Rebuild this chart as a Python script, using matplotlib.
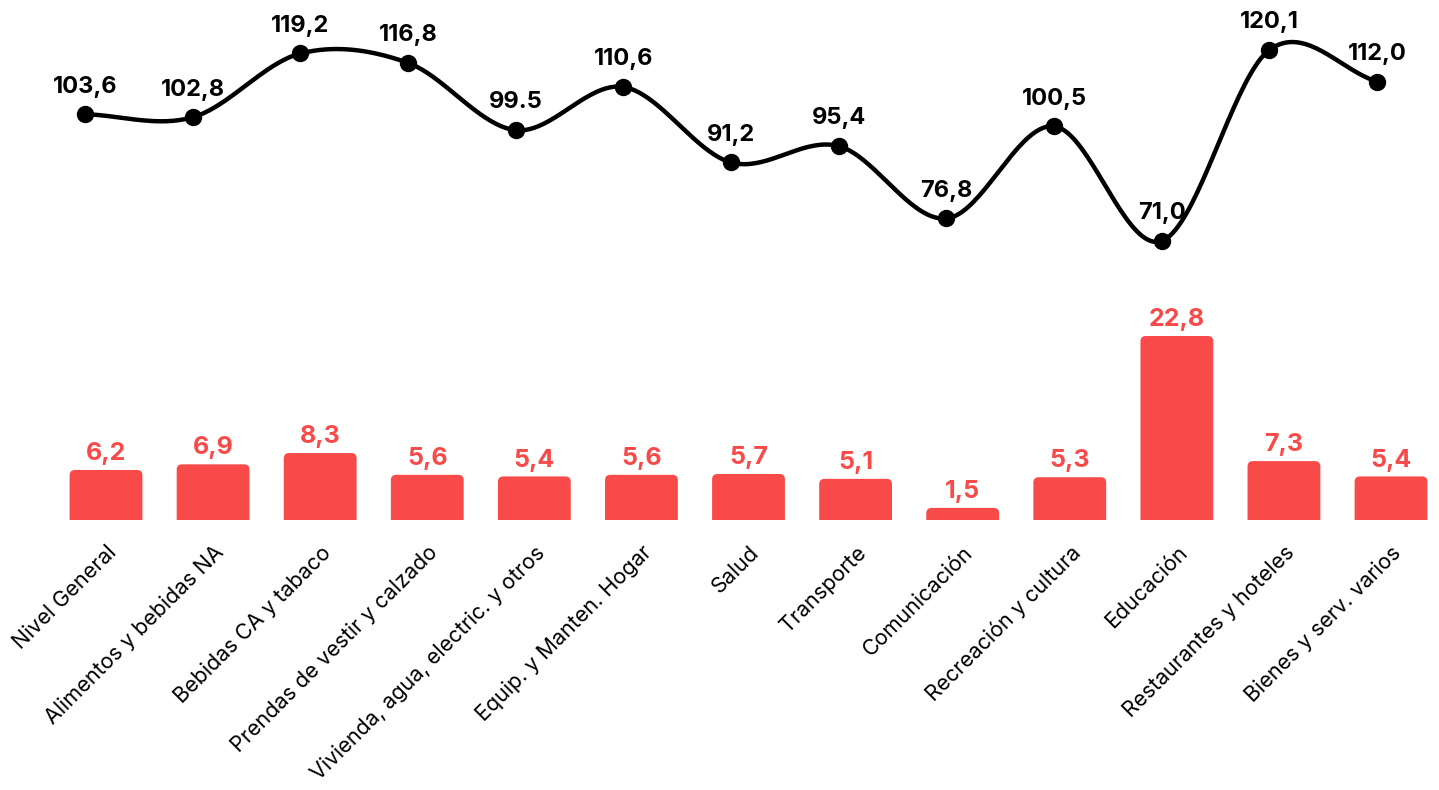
import numpy as np
import matplotlib.pyplot as plt
from matplotlib.patches import FancyBboxPatch

plt.rcParams['font.family'] = ['Inter', 'DejaVu Sans']

categories = ['Nivel General', 'Alimentos y bebidas NA', 'Bebidas CA y tabaco',
              'Prendas de vestir y calzado', 'Vivienda, agua, electric. y otros',
              'Equip. y Manten. Hogar', 'Salud', 'Transporte', 'Comunicación',
              'Recreación y cultura', 'Educación', 'Restaurantes y hoteles',
              'Bienes y serv. varios']
bar_vals = [6.2, 6.9, 8.3, 5.6, 5.4, 5.6, 5.7, 5.1, 1.5, 5.3, 22.8, 7.3, 5.4]
line_vals = [103.6, 102.8, 119.2, 116.8, 99.5, 110.6, 91.2, 95.4, 76.8, 100.5, 71.0, 120.1, 112.0]
line_labels = ['103,6', '102,8', '119,2', '116,8', '99.5', '110,6', '91,2', '95,4',
               '76,8', '100,5', '71,0', '120,1', '112,0']

red = '#f94a4a'

fig = plt.figure(figsize=(14.39, 7.9), dpi=100)

# bars (rounded top corners, bottom corners pushed below the clipped axis)
ax = fig.add_axes([0, 270 / 790, 1, 520 / 790])
x = np.arange(len(categories))
bars = ax.bar(x, bar_vals, width=0.68, color=red)
for b in bars:
    b.set_visible(False)
    bx, by, bw, bh = b.get_x(), b.get_y(), b.get_width(), b.get_height()
    p = FancyBboxPatch((bx, by - 2), bw, bh + 2,
                       boxstyle='round,pad=0,rounding_size=0.05',
                       mutation_aspect=13.3, fc=red, ec='none')
    ax.add_patch(p)
    ax.text(bx + bw / 2, by + bh + 0.6, f'{bh:.1f}'.replace('.', ','),
            ha='center', va='bottom', color=red, fontsize=18, fontweight='bold')
ax.set_xlim(-0.99, 12.448)
ax.set_ylim(0, 64.44)
ax.set_xticks(x)
ax.set_xticklabels(categories, rotation=45, ha='right', rotation_mode='anchor',
                   fontsize=15.5)
ax.tick_params(axis='x', length=0, pad=16)
ax.set_yticks([])
for s in ax.spines.values():
    s.set_visible(False)
ax.patch.set_alpha(0)

# line, smoothed with a Catmull-Rom curve
ax2 = fig.add_axes([0, 270 / 790, 1, 520 / 790])
xs = np.arange(len(line_vals), dtype=float)
ys = np.array(line_vals)
px = np.concatenate([[2 * xs[0] - xs[1]], xs, [2 * xs[-1] - xs[-2]]])
py = np.concatenate([[2 * ys[0] - ys[1]], ys, [2 * ys[-1] - ys[-2]]])
cx, cy = [], []
t = np.linspace(0, 1, 40)
for i in range(1, len(px) - 2):
    for arr, out in ((px, cx), (py, cy)):
        p0, p1, p2, p3 = arr[i - 1], arr[i], arr[i + 1], arr[i + 2]
        out.extend(0.5 * (2 * p1 + (-p0 + p2) * t + (2 * p0 - 5 * p1 + 4 * p2 - p3) * t ** 2
                          + (-p0 + 3 * p1 - 3 * p2 + p3) * t ** 3))
ax2.plot(cx, cy, color='black', lw=3.2, solid_capstyle='round')
ax2.plot(xs, ys, 'o', color='black', ms=11.5)
for xi, yi, lab in zip(xs, ys, line_labels):
    ax2.annotate(lab, (xi, yi), xytext=(0, 12), textcoords='offset points',
                 ha='center', va='bottom', fontsize=17, fontweight='bold')
ax2.set_xlim(-0.789, 12.576)
ax2.set_ylim(-0.7, 132.95)
ax2.axis('off')

fig.savefig('out.png', dpi=100)
